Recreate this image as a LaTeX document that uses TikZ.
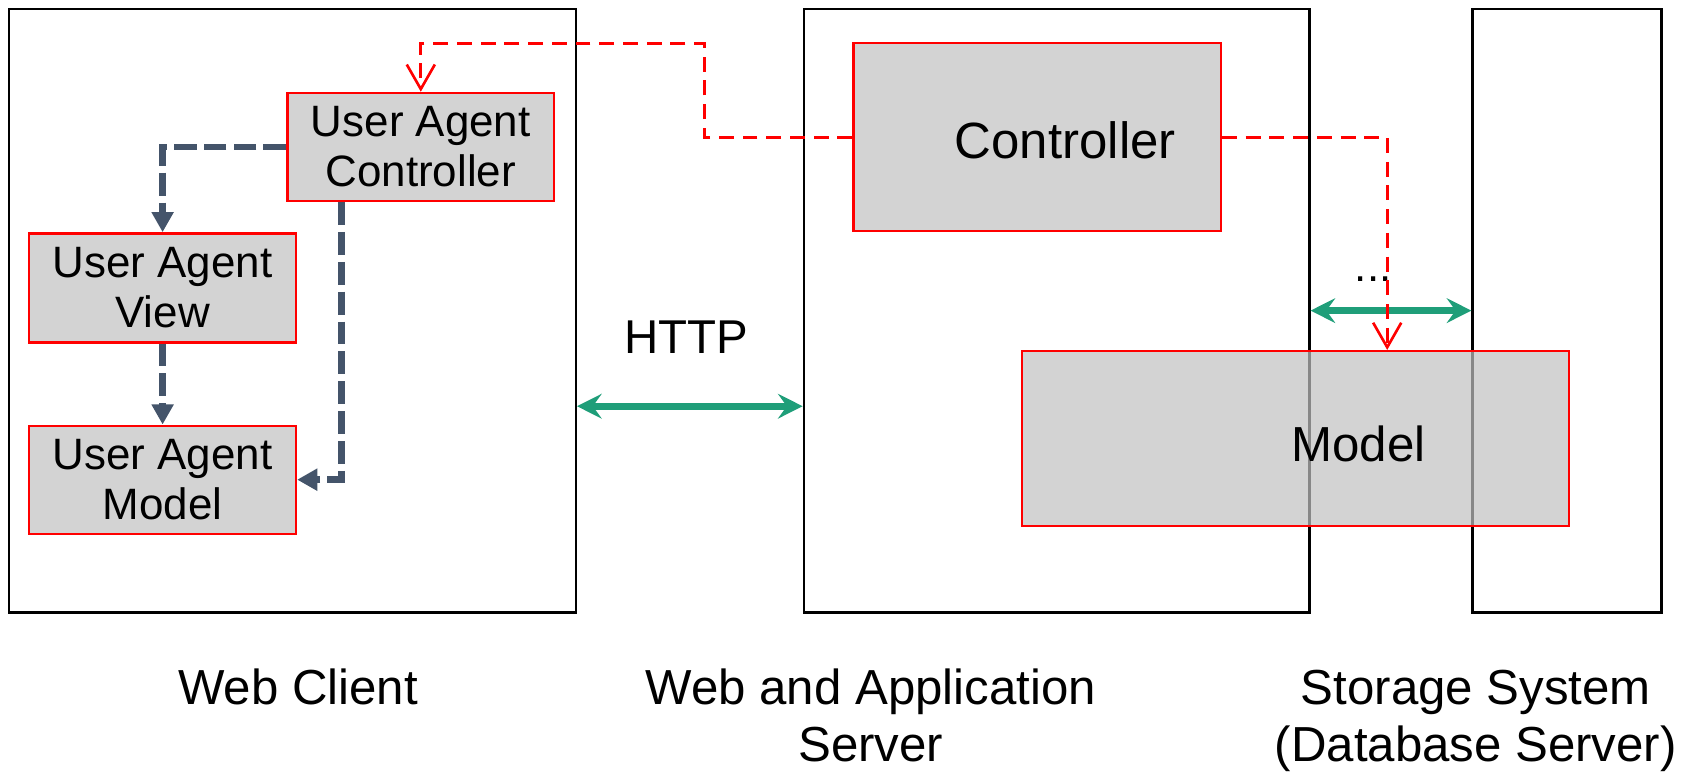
\documentclass[tikz,border=0pt]{standalone}
\usepackage{fontspec}
\setmainfont{Liberation Sans}
\usetikzlibrary{arrows.meta}
\definecolor{dashblue}{RGB}{68,84,106}
\definecolor{httpgreen}{RGB}{31,158,121}
\definecolor{boxgray}{RGB}{211,211,211}
\definecolor{modelgray}{RGB}{193,193,193}
\def\U{0.0216cm}
\begin{document}
\begin{tikzpicture}[x=0.0216cm,y=-0.0216cm,
  container/.style={draw=black, line width=1.3pt, inner sep=0pt},
  compbox/.style={draw=red, line width=1.3pt, fill=boxgray, align=center, inner sep=0pt,
    font=\fontsize{25}{28.3}\selectfont},
  sz/.style 2 args={minimum width=#1*\U, minimum height=#2*\U},
  uadash/.style={draw=dashblue, line width=3.8pt, dash pattern=on 13pt off 4pt,
    -{Triangle[length=11.5pt,width=12pt]}},
  reddash/.style={draw=red, line width=1.5pt, dash pattern=on 8.5pt off 5pt,
    -{Straight Barb[length=14pt,width=16pt]}},
  httparrow/.style={draw=httpgreen, line width=3.8pt,
    {Stealth[length=14pt,width=14pt,inset=5pt]}-{Stealth[length=14pt,width=14pt,inset=5pt]}},
  lbl/.style={font=\fontsize{28}{32.6}\selectfont, align=center, inner sep=0pt}]
\useasboundingbox (0,0) rectangle (1568,714);

% containers
\node[container, sz={525}{559}] (client) at (270.5,287.5) {};
\node[container, sz={468}{559}] (server) at (978,287.5) {};
\node[container, sz={175}{559}] (storage) at (1450.5,287.5) {};

% components
\node[compbox, sz={247}{100}] (uac) at (389.5,136) {User Agent\\Controller};
\node[compbox, sz={247}{101}] (uav) at (150.5,266.5) {User Agent\\View};
\node[compbox, sz={247}{100}] (uam) at (150.5,444) {User Agent\\Model};
\node[compbox, sz={340}{174},
  label={[font=\fontsize{29}{32}\selectfont, xshift=16pt, yshift=-2pt]center:Controller}] (ctrl) at (960,127) {};
\node[compbox, sz={506}{162}, fill=modelgray, fill opacity=0.7, text opacity=1,
  label={[font=\fontsize{28}{32}\selectfont, xshift=36pt, yshift=-3pt]center:Model}] (model) at (1199,406) {};

% HTTP and storage links
\coordinate (hy) at (0,376);
\draw[httparrow] (client.east |- hy) -- (server.west |- hy);
\node[lbl, font=\fontsize{27}{30}\selectfont] (http) at (635,312) {HTTP};
\draw[httparrow] (server.east) -- (storage.west);
\node[lbl, font=\fontsize{25}{28}\selectfont, anchor=base] (dots) at (1271,261) {...};

% red dashed request flow
\coordinate (ca) at (652,40);
\draw[reddash] (ctrl.west) -| (ca) -| (uac.north);
\coordinate (cx) at (1284,0);
\draw[reddash] (ctrl.east) -| (cx |- model.north);

% user agent internal flow
\draw[uadash] (uac.west) -| (uav.north);
\draw[uadash] (uav.south) -- (uam.north);
\coordinate (bx) at (316,0);
\draw[uadash] (bx |- uac.south) |- (uam.east);

% captions
\node[lbl, anchor=base] (wc) at (276,652) {Web Client};
\node[lbl, anchor=base] (was) at (806,705) {Web and Application\\Server};
\node[lbl, anchor=base] (ss) at (1366,705) {Storage System\\(Database Server)};
\end{tikzpicture}
\end{document}
